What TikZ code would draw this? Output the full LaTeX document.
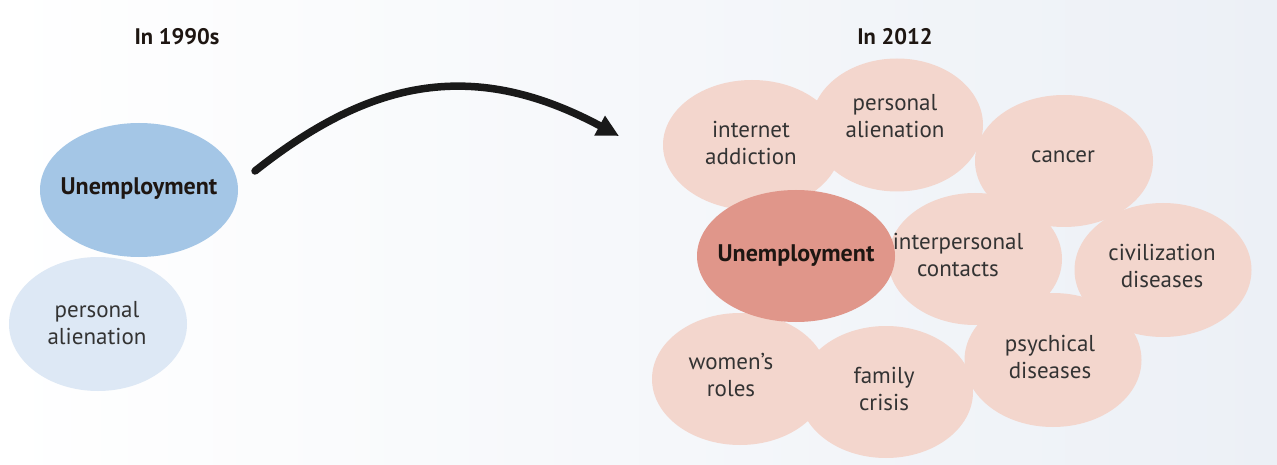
\documentclass[tikz,border=0pt]{standalone}
\usepackage{fontspec}
\setmainfont{PT Sans}
\usetikzlibrary{shapes.geometric,arrows.meta}
\definecolor{bgR}{HTML}{ECF0F6}
\definecolor{blueA}{HTML}{A4C6E6}
\definecolor{blueB}{HTML}{DDE8F5}
\definecolor{pinkA}{HTML}{F3D6CD}
\definecolor{redA}{HTML}{E0968A}
\definecolor{txtgray}{HTML}{333333}
\definecolor{txtdark}{HTML}{1E1612}
\begin{document}
\begin{tikzpicture}[x=1pt,y=-1pt,
  bubble/.style={ellipse, draw=none, inner sep=0pt, minimum width=176pt, minimum height=133pt},
  pinkbub/.style={bubble, fill=pinkA},
  txt/.style={font=\fontsize{23}{27}\selectfont, text=txtgray, align=center, inner sep=0pt},
  boldtxt/.style={font=\bfseries\fontsize{24}{27}\selectfont, text=txtdark, align=center, inner sep=0pt},
  title/.style={font=\bfseries\fontsize{22.5}{24}\selectfont, text=txtdark, inner sep=0pt},
  bigarrow/.style={line width=7.5pt, draw=black!90, line cap=round, -{Triangle[length=22pt,width=21pt]}}
]
\useasboundingbox (0,0) rectangle (1277,465);
\shade[left color=white, right color=bgR] (0,0) rectangle (1277,465);

% titles
\node[title] (t90) at (177,37) {In 1990s};
\node[title] (t12) at (895,37) {In 2012};

% left cluster
\node[bubble, fill=blueA, minimum width=198pt, minimum height=134pt] (lu) at (139,190) {};
\node[bubble, fill=blueB, minimum width=178pt, minimum height=134pt] (lp) at (98,324) {};
\node[boldtxt] (lut) at (139,189) {Unemployment};
\node[txt] (lpt) at (97,323) {personal\\alienation};

% arrow
\coordinate (as) at (255,171);
\coordinate (ae) at (619,136);
\draw[bigarrow] (as) .. controls (365,84) and (468,55) .. (ae);

% right cluster
\node[pinkbub, minimum width=178pt, minimum height=130pt] (ri) at (752,145) {};
\node[pinkbub, minimum width=172pt, minimum height=133pt] (rp) at (897,125) {};
\node[pinkbub, minimum width=178pt, minimum height=132pt] (rc) at (1064,161) {};
\node[pinkbub, minimum width=177pt, minimum height=134pt] (rv) at (1163,270) {};
\node[pinkbub, minimum width=174pt, minimum height=132pt] (rn) at (975,259) {};
\node[pinkbub, minimum width=177pt, minimum height=134pt] (rs) at (1053,360) {};
\node[pinkbub, minimum width=176pt, minimum height=132pt] (rw) at (740,379) {};
\node[pinkbub, minimum width=174pt, minimum height=132pt] (rf) at (886,392) {};
\node[bubble, fill=redA, minimum width=198pt, minimum height=132pt] (ru) at (796,256) {};

\node[txt] (rit) at (751,143) {internet\\addiction};
\node[txt] (rpt) at (895,116) {personal\\alienation};
\node[txt] (rct) at (1063,157) {cancer};
\node[txt] (rvt) at (1162,266) {civilization\\diseases};
\node[txt] (rnt) at (958,255) {interpersonal\\contacts};
\node[txt] (rst) at (1050,357) {psychical\\diseases};
\node[txt] (rwt) at (731,375) {women’s\\roles};
\node[txt] (rft) at (884,389) {family\\crisis};
\node[boldtxt] (rut) at (796,256) {Unemployment};
\end{tikzpicture}
\end{document}
